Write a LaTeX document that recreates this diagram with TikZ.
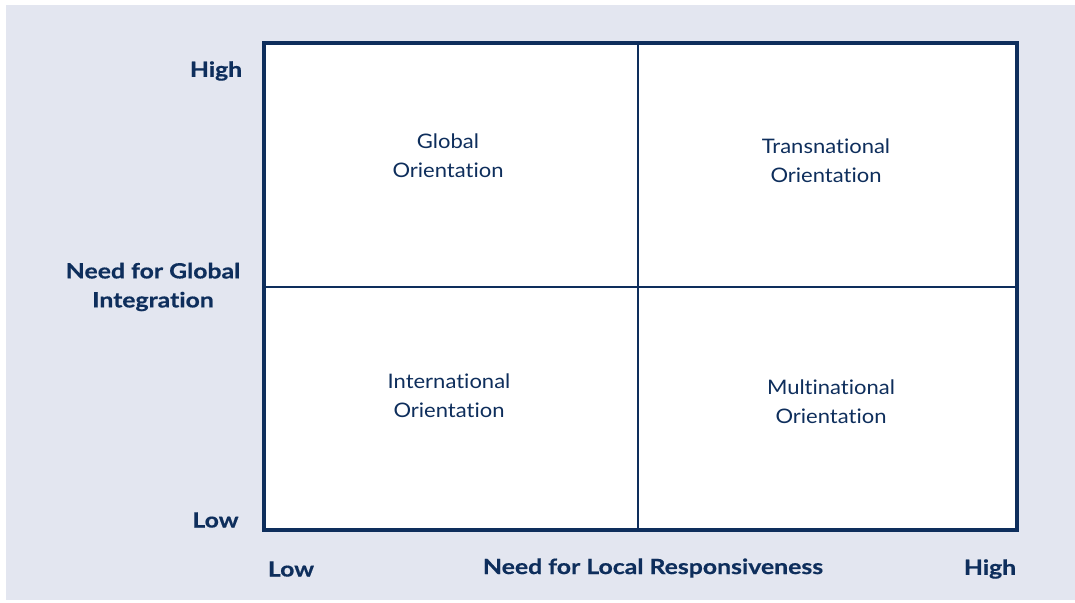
\documentclass[tikz,border=0pt]{standalone}
\usepackage{fontspec}
\setmainfont{Lato}[Ligatures={NoCommon},FakeStretch=1.1]
\newfontfamily\lblfont{Lato}[Ligatures={NoCommon},FakeStretch=1.18,FakeBold=0.5,UprightFont={* Bold}]
\definecolor{navy}{RGB}{14,46,92}
\definecolor{bgc}{RGB}{227,230,240}
\begin{document}
\begin{tikzpicture}[x=1pt,y=-1pt,
  axislbl/.style={text=navy,font=\fontsize{21}{29}\lblfont,inner sep=0pt,align=center},
  quad/.style={text=navy,font=\fontsize{20}{29}\selectfont,align=center,inner sep=0pt}]
\useasboundingbox (0,0) rectangle (1075,602);
\fill[bgc] (6,5) rectangle (1075,600);
\fill[white] (264,43) rectangle (1017,530);
\draw[navy,line width=1.2pt] (638,43) -- (638,530);
\draw[navy,line width=1.2pt] (264,287) -- (1017,287);
\draw[navy,line width=3.6pt] (264,43) rectangle (1017,530);
\node[quad] (q1) at (448,156) {Global\\Orientation};
\node[quad] (q2) at (826,161) {Transnational\\Orientation};
\node[quad] (q3) at (449,396) {International\\Orientation};
\node[quad] (q4) at (831,402) {Multinational\\Orientation};
\node[axislbl] (yh) at (216,71) {High};
\node[axislbl] (yl) at (153,287) {Need for Global\\Integration};
\node[axislbl] (ylow) at (215.5,520) {Low};
\node[axislbl] (xlow) at (291,569) {Low};
\node[axislbl] (xl) at (653,568) {Need for Local Responsiveness};
\node[axislbl] (xh) at (990,569) {High};
\end{tikzpicture}
\end{document}
